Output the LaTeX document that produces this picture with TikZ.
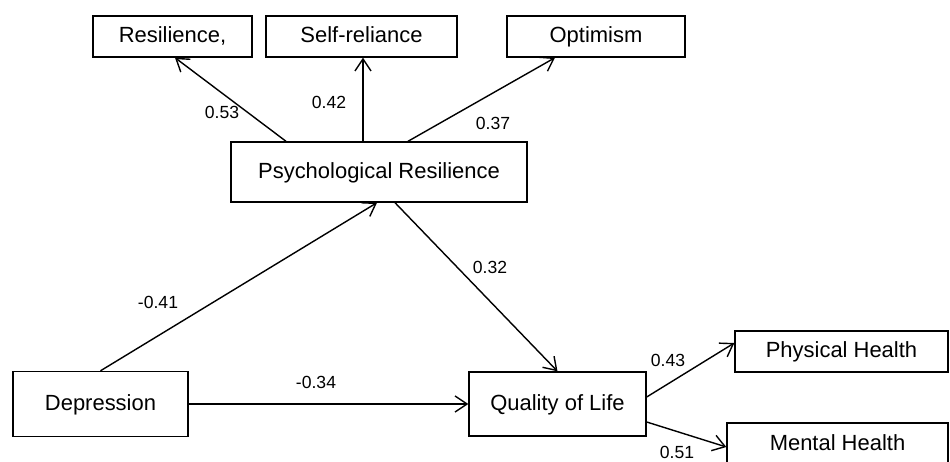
\documentclass[tikz,border=0pt]{standalone}
\usepackage{fontspec}
\setmainfont{Liberation Sans}
\usetikzlibrary{arrows.meta,positioning,calc}

\begin{document}
\begin{tikzpicture}[
  x=0.02cm, y=-0.02cm,
  >={Straight Barb[length=2.4mm,width=3.2mm]},
  line width=0.8pt,
  varbox/.style={draw,line width=0.8pt,inner sep=0pt,text height=0.86em,text depth=0.14em,
    font=\fontsize{12.5}{14}\selectfont},
  coefnode/.style={inner sep=0pt,font=\fontsize{10}{12}\selectfont}
]
\useasboundingbox (0,0) rectangle (950,462);
\clip (0,0) rectangle (950,462);

% indicator boxes, top row
\node[varbox,minimum width=3.18cm,minimum height=0.82cm] (res) at (172.5,36.5) {Resilience,};
\node[varbox,minimum width=3.82cm,minimum height=0.82cm] (selfrel) at (361.5,36.5) {Self-reliance};
\node[varbox,minimum width=3.56cm,minimum height=0.82cm] (opt) at (596,36.5) {Optimism};

% latent variables
\node[varbox,minimum width=5.92cm,minimum height=1.2cm] (psy) at (379,172) {Psychological Resilience};
\node[varbox,minimum width=3.5cm,minimum height=1.3cm] (dep) at (100.5,404) {Depression};
\node[varbox,minimum width=3.54cm,minimum height=1.28cm] (qol) at (557.5,404) {Quality of Life};

% indicator boxes, right
\node[varbox,minimum width=4.26cm,minimum height=0.82cm] (phys) at (841.5,351.5) {Physical Health};
\node[varbox,minimum width=4.42cm,minimum height=0.84cm] (ment) at (837.5,444) {Mental Health};

% paths
\draw[->] ([xshift=-1.86cm]psy.north) -- ([xshift=0.05cm]res.south);
\draw[->] ([xshift=-0.32cm]psy.north) -- ([xshift=-0.32cm]psy.north |- selfrel.south);
\draw[->] ([xshift=0.58cm]psy.north) -- ([xshift=-0.82cm]opt.south);
\draw[->] (dep.north) -- ([xshift=-0.04cm]psy.south);
\draw[->] ([xshift=0.32cm]psy.south) -- (qol.north);
\draw[->] (dep.east) -- (qol.west);
\draw[->] ([yshift=0.14cm]qol.east) -- ([yshift=0.17cm]phys.west);
\draw[->] ([yshift=-0.36cm]qol.east) -- ([yshift=-0.06cm]ment.west);

% path coefficients
\node[coefnode] (c053) at (222,112) {0.53};
\node[coefnode] (c042) at (329,102) {0.42};
\node[coefnode] (c037) at (493,123) {0.37};
\node[coefnode] (c041) at (158,302) {-0.41};
\node[coefnode] (c032) at (490,267) {0.32};
\node[coefnode] (c034) at (316,382) {-0.34};
\node[coefnode] (c043) at (668,360) {0.43};
\node[coefnode] (c051) at (677,452) {0.51};

\end{tikzpicture}
\end{document}
